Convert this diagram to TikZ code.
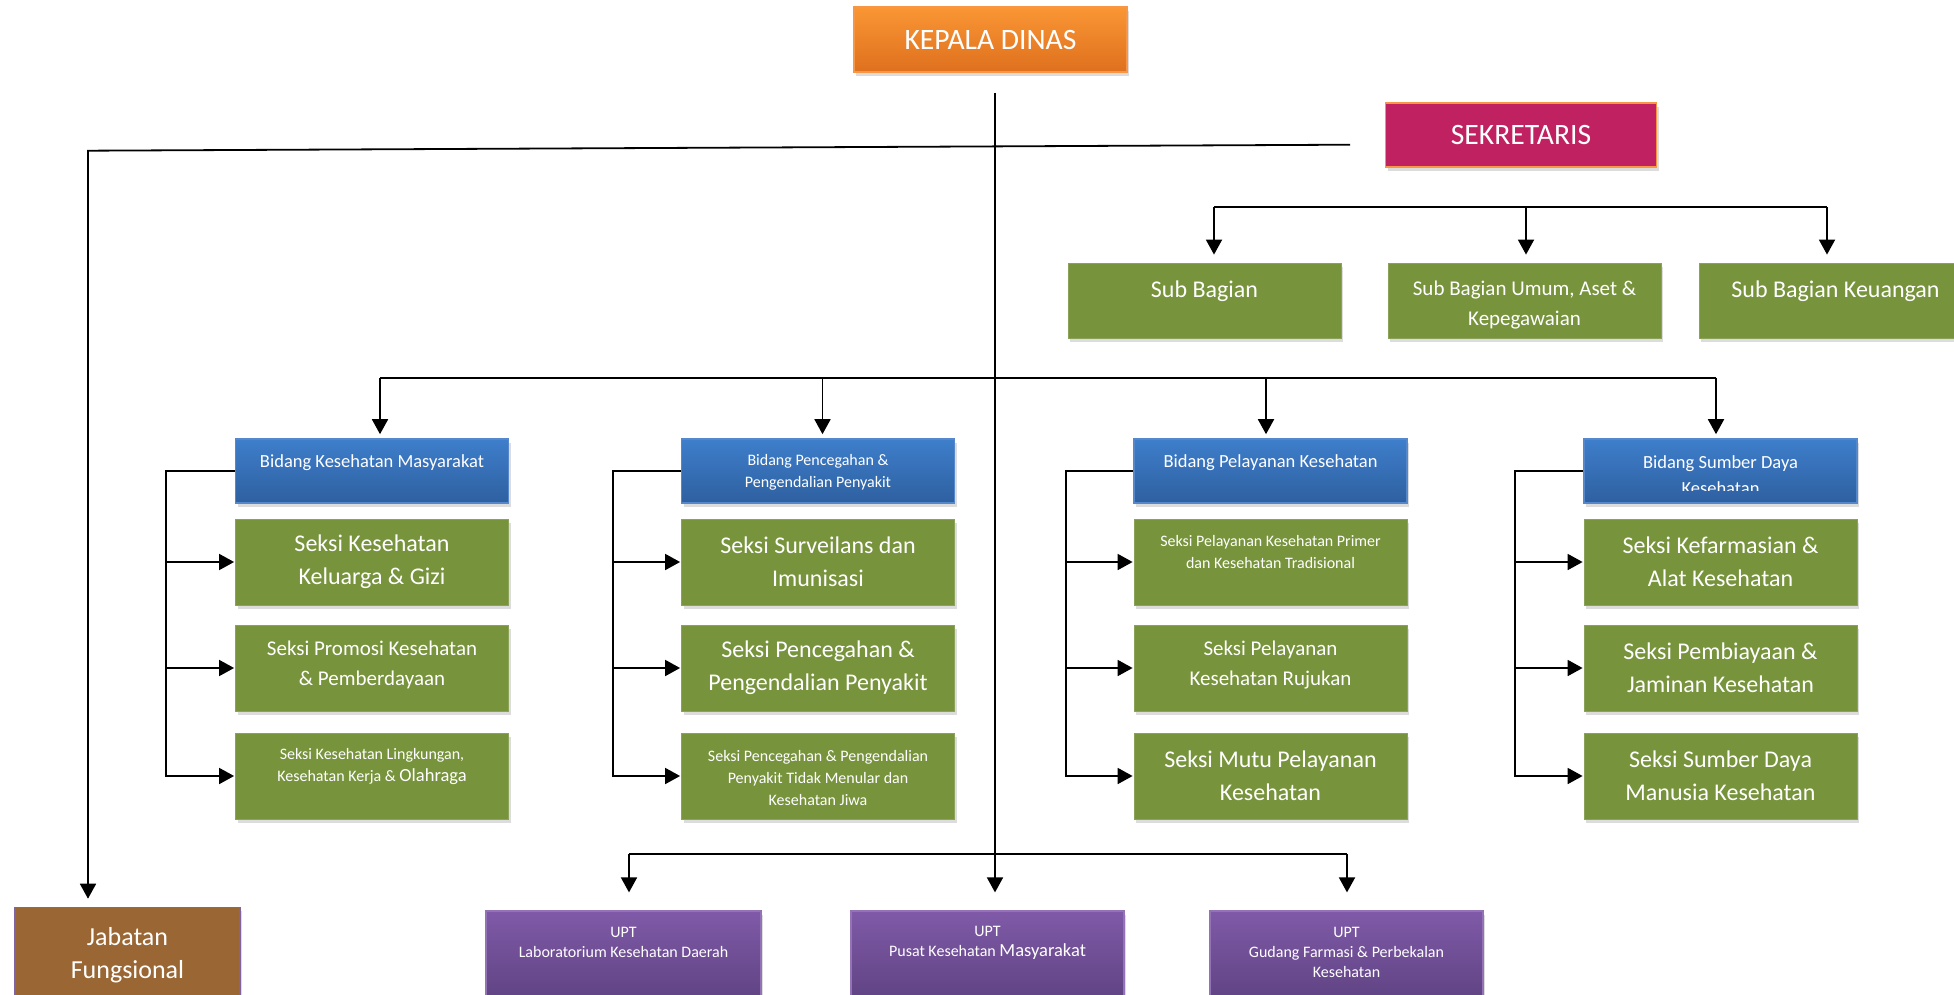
\documentclass[tikz,border=0pt]{standalone}
\usepackage{fontspec}
\setmainfont{Carlito}
\usetikzlibrary{arrows.meta,shadows}
\definecolor{orgT}{RGB}{250,150,52}
\definecolor{orgB}{RGB}{222,112,30}
\definecolor{orgL}{RGB}{247,150,70}
\definecolor{sekFill}{RGB}{192,33,96}
\definecolor{oliveF}{RGB}{119,147,60}
\definecolor{bluT}{RGB}{62,126,203}
\definecolor{bluB}{RGB}{46,96,160}
\definecolor{bluL}{RGB}{85,135,205}
\definecolor{purT}{RGB}{128,90,168}
\definecolor{purB}{RGB}{96,68,132}
\definecolor{brownF}{RGB}{154,102,51}
\definecolor{brownL}{RGB}{128,100,162}
\newcommand\fsHead{\fontsize{14.8}{17}\selectfont}
\newcommand\fsBig{\fontsize{12}{16.5}\selectfont}
\newcommand\fsMed{\fontsize{10.5}{15}\selectfont}
\newcommand\fsBid{\fontsize{9.25}{13}\selectfont}
\newcommand\fsSm{\fontsize{8}{11}\selectfont}
\newcommand\fsUpt{\fontsize{8}{10}\selectfont}
\newcommand\fsJab{\fontsize{13}{16.5}\selectfont}
\begin{document}
\begin{tikzpicture}[x=0.5pt,y=-0.5pt,
  shad/.style={drop shadow={shadow xshift=1pt,shadow yshift=-1.8pt,opacity=0.28}},
  box/.style={shape=rectangle,inner sep=0pt,minimum width=136.5pt,shad},
  seksibox/.style={box,fill=oliveF,draw=oliveF!85!white,line width=0.4pt,minimum height=43pt,text=white,align=center},
  subbox/.style={box,fill=oliveF,draw=oliveF!85!white,line width=0.4pt,minimum height=37.5pt},
  bidbox/.style={box,top color=bluT,bottom color=bluB,draw=bluL,line width=0.8pt,minimum height=32pt},
  uptbox/.style={box,top color=purT,bottom color=purB,draw=purT!85!white,line width=0.6pt,minimum height=43pt},
  lbl/.style={text=white,align=center,inner sep=0pt},
  line/.style={draw=black,line width=0.9pt},
  arr/.style={line,-{Triangle[length=7.5pt,width=8pt]}},
]
\useasboundingbox (0,0) rectangle (1954,995);

% top
\node[box,top color=orgT,bottom color=orgB,draw=orgL,line width=0.8pt,minimum height=32.5pt,text=white,font=\fsHead] (kepala) at (990.5,39.5) {KEPALA DINAS};
\node[box,fill=sekFill,draw=orgL,line width=0.9pt,minimum width=135.5pt,minimum height=32pt,text=white,font=\fsHead] (sek) at (1521,135) {SEKRETARIS};

% sub bagian
\node[subbox] (sb1) at (1204.5,300.5) {};
\node[lbl,font=\fsBig] (tsb1) at (1204.5,291.5) {Sub Bagian};
\node[subbox] (sb2) at (1524.5,300.5) {};
\node[lbl,font=\fsMed] (tsb2) at (1524.5,305.5) {Sub Bagian Umum, Aset \&\\Kepegawaian};
\node[subbox] (sb3) at (1835.5,300.5) {};
\node[lbl,font=\fsBig] (tsb3) at (1835.5,291.5) {Sub Bagian Keuangan};

% bidang
\node[bidbox] (bd1) at (372,471) {};
\node[lbl,font=\fsBid] (tbd1) at (372,462.5) {Bidang Kesehatan Masyarakat};
\node[bidbox] (bd2) at (818,471) {};
\node[lbl,font=\fsSm] (tbd2) at (818,472) {Bidang Pencegahan \&\\Pengendalian Penyakit};
\node[bidbox] (bd3) at (1270.5,471) {};
\node[lbl,font=\fsBid] (tbd3) at (1270.5,462.5) {Bidang Pelayanan Kesehatan};
\node[bidbox] (bd4) at (1720.5,471) {};
\begin{scope}
\clip (1584,439) rectangle (1857,490);
\node[lbl,font=\fsBid] (tbd4) at (1720.5,475) {Bidang Sumber Daya\\Kesehatan};
\end{scope}

% seksi column 1
\node[seksibox,font=\fsBig] (s11) at (372,562) {Seksi Kesehatan\\Keluarga \& Gizi};
\node[seksibox] (s12) at (372,668) {};
\node[lbl,font=\fsMed] (ts12) at (372,665) {Seksi Promosi Kesehatan\\\& Pemberdayaan};
\node[seksibox] (s13) at (372,776) {};
\node[lbl,font=\fsSm] (ts13) at (372,767) {Seksi Kesehatan Lingkungan,\\Kesehatan Kerja \& {\fontsize{9.25}{11}\selectfont Olahraga}};

% seksi column 2
\node[seksibox,font=\fsBig] (s21) at (818,562) {Seksi Surveilans dan\\Imunisasi};
\node[seksibox,font=\fsBig] (s22) at (818,668) {Seksi Pencegahan \&\\Pengendalian Penyakit};
\node[seksibox] (s23) at (818,776) {};
\node[lbl,font=\fsSm] (ts23) at (818,778) {Seksi Pencegahan \& Pengendalian\\Penyakit Tidak Menular dan\\Kesehatan Jiwa};

% seksi column 3
\node[seksibox] (s31) at (1270.5,562) {};
\node[lbl,font=\fsSm] (ts31) at (1270.5,552) {Seksi Pelayanan Kesehatan Primer\\dan Kesehatan Tradisional};
\node[seksibox] (s32) at (1270.5,668) {};
\node[lbl,font=\fsMed] (ts32) at (1270.5,665) {Seksi Pelayanan\\Kesehatan Rujukan};
\node[seksibox,font=\fsBig] (s33) at (1270.5,776) {Seksi Mutu Pelayanan\\Kesehatan};

% seksi column 4
\node[seksibox,font=\fsBig] (s41) at (1720.5,562) {Seksi Kefarmasian \&\\Alat Kesehatan};
\node[seksibox,font=\fsBig] (s42) at (1720.5,668) {Seksi Pembiayaan \&\\Jaminan Kesehatan};
\node[seksibox,font=\fsBig] (s43) at (1720.5,776) {Seksi Sumber Daya\\Manusia Kesehatan};

% bottom
\node[box,fill=brownF,draw=brownL,line width=0.8pt,minimum width=112.5pt,minimum height=44pt] (jf) at (127.5,951.5) {};
\node[lbl,font=\fsJab] (tjf) at (127.5,955.5) {Jabatan\\Fungsional};
\node[uptbox,minimum width=137.5pt] (u1) at (623.5,954) {};
\node[lbl,font=\fsUpt] (tu1) at (623.5,942) {UPT\\Laboratorium Kesehatan Daerah};
\node[uptbox] (u2) at (987.5,954) {};
\node[lbl,font=\fsUpt] (tu2) at (987.5,943) {UPT\\Pusat Kesehatan {\fontsize{9.25}{10}\selectfont Masyarakat}};
\node[uptbox] (u3) at (1346.5,954) {};
\node[lbl,font=\fsUpt] (tu3) at (1346.5,952.5) {UPT\\Gudang Farmasi \& Perbekalan\\Kesehatan};

% coordinates
\coordinate (trunkTop) at (995,93);
\coordinate (jl) at (1350,144.7);
\coordinate (jc) at (88,150.7);
\coordinate (sbA) at (1214,207);
\coordinate (sbB) at (1526,207);
\coordinate (sbC) at (1827,207);
\coordinate (bbA) at (380,377.6);
\coordinate (bbB) at (822.5,377.6);
\coordinate (bbC) at (1266,377.6);
\coordinate (bbD) at (1716,377.6);
\coordinate (uA) at (629,854);
\coordinate (uC) at (1347,854);
\coordinate (k1) at (166,776);
\coordinate (k2) at (613,776);
\coordinate (k3) at (1066,776);
\coordinate (k4) at (1515,776);

% connectors
\draw[arr,shorten >=9pt] (trunkTop) -- (trunkTop |- u2.north);
\draw[arr,shorten >=4pt] (jl) -- (jc) -- (jc |- jf.north);
\draw[line] (sbA) -- (sbC);
\draw[arr,shorten >=4pt] (sbA) -- (sbA |- sb1.north);
\draw[arr,shorten >=4pt] (sbB) -- (sbB |- sb2.north);
\draw[arr,shorten >=4pt] (sbC) -- (sbC |- sb3.north);
\draw[line] (bbA) -- (bbD);
\draw[arr,shorten >=2pt] (bbA) -- (bbA |- bd1.north);
\draw[arr,shorten >=2pt] (bbB) -- (bbB |- bd2.north);
\draw[arr,shorten >=2pt] (bbC) -- (bbC |- bd3.north);
\draw[arr,shorten >=2pt] (bbD) -- (bbD |- bd4.north);
\draw[line] (uA) -- (uC);
\draw[arr,shorten >=9pt] (uA) -- (uA |- u1.north);
\draw[arr,shorten >=9pt] (uC) -- (uC |- u3.north);

\draw[arr,shorten >=0.5pt] (bd1.west) -| (k1) -- (s13.west);
\draw[arr,shorten >=0.5pt] (s11.west -| k1) -- (s11.west);
\draw[arr,shorten >=0.5pt] (s12.west -| k1) -- (s12.west);
\draw[arr,shorten >=0.5pt] (bd2.west) -| (k2) -- (s23.west);
\draw[arr,shorten >=0.5pt] (s21.west -| k2) -- (s21.west);
\draw[arr,shorten >=0.5pt] (s22.west -| k2) -- (s22.west);
\draw[arr,shorten >=0.5pt] (bd3.west) -| (k3) -- (s33.west);
\draw[arr,shorten >=0.5pt] (s31.west -| k3) -- (s31.west);
\draw[arr,shorten >=0.5pt] (s32.west -| k3) -- (s32.west);
\draw[arr,shorten >=0.5pt] (bd4.west) -| (k4) -- (s43.west);
\draw[arr,shorten >=0.5pt] (s41.west -| k4) -- (s41.west);
\draw[arr,shorten >=0.5pt] (s42.west -| k4) -- (s42.west);
\end{tikzpicture}
\end{document}
